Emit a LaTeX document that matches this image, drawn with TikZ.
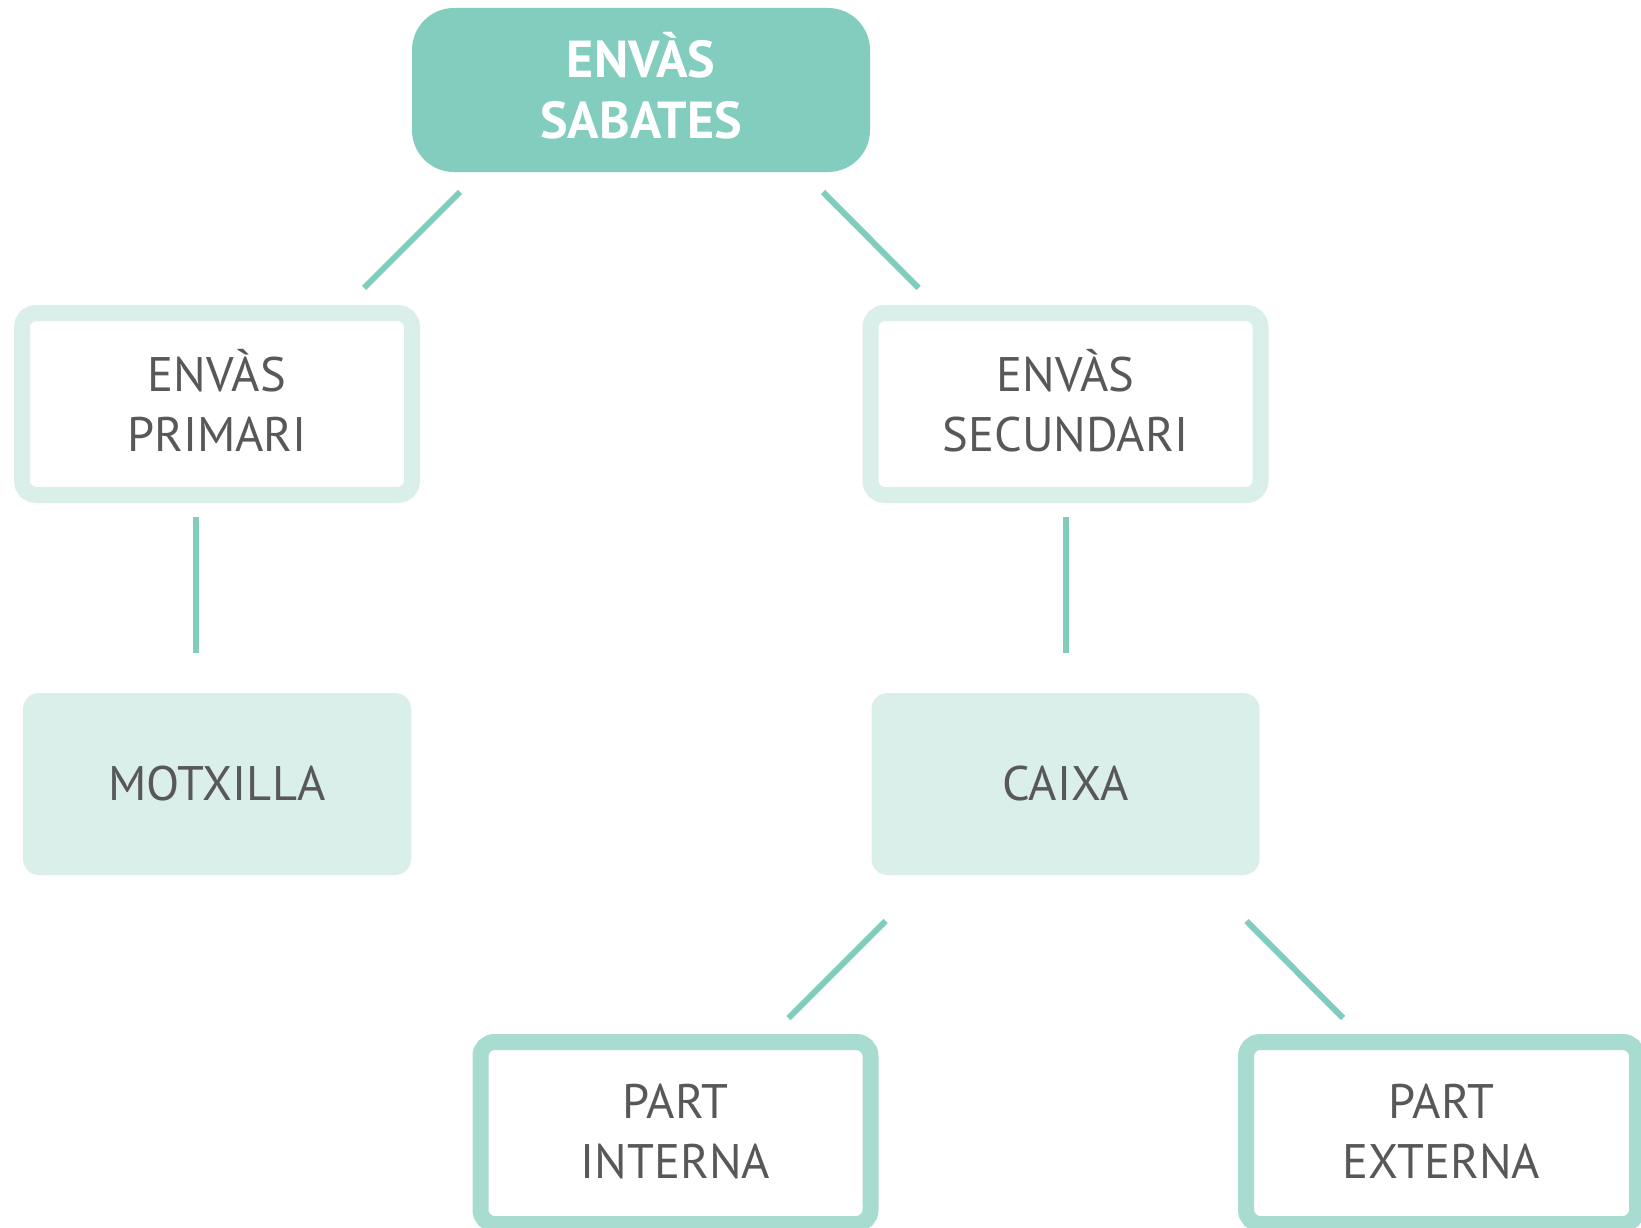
\documentclass[tikz,border=0pt]{standalone}
\usepackage{fontspec}
\setmainfont{PT Sans}
\definecolor{topfill}{HTML}{82CDBE}
\definecolor{conncol}{HTML}{7ECDBD}
\definecolor{lightmint}{HTML}{DBEFEA}
\definecolor{midmint}{HTML}{A9DCD0}
\definecolor{txtgray}{HTML}{58585A}
\begin{document}
\begin{tikzpicture}[x=1pt,y=-1pt,
  every node/.style={outer sep=0pt, inner sep=0pt, align=center},
  headbox/.style={fill=topfill, rounded corners=42pt, minimum width=458pt, minimum height=164pt,
    text=white, text depth=10pt, font=\bfseries\fontsize{52}{61}\selectfont},
  ringbox/.style={draw=lightmint, line width=16pt, fill=white, rounded corners=14pt,
    minimum width=390pt, minimum height=182pt, text=txtgray, text depth=7pt,
    font=\fontsize{48.5}{60}\selectfont},
  ringboxdark/.style={ringbox, draw=midmint, text depth=4pt},
  solidbox/.style={fill=lightmint, rounded corners=16pt, minimum width=388pt, minimum height=182pt,
    text=txtgray, font=\fontsize{48.5}{60}\selectfont},
  conn/.style={draw=conncol, line width=6pt}
]
\useasboundingbox (0,0) rectangle (1641,1228);
\fill[white] (0,0) rectangle (1641,1228);

\node[headbox] (top) at (641,90) {ENVÀS\\SABATES};
\node[ringbox] (prim) at (217,404) {ENVÀS\\PRIMARI};
\node[ringbox] (sec) at (1065.5,404) {ENVÀS\\SECUNDARI};
\node[solidbox] (mot) at (217,784) {MOTXILLA};
\node[solidbox] (caixa) at (1065.5,784) {CAIXA};
\node[ringboxdark] (pint) at (675.5,1133) {PART\\INTERNA};
\node[ringboxdark, minimum width=391pt] (pext) at (1441.5,1133) {PART\\EXTERNA};

\draw[conn] ([shift={(48,20)}]top.south west) -- ([shift={(-48,-25)}]prim.north east);
\draw[conn] ([shift={(-47,20)}]top.south east) -- ([shift={(48,-25)}]sec.north west);
\draw[conn] ([shift={(-21,22)}]prim.south) -- ([shift={(-21,-40)}]mot.north);
\draw[conn] ([shift={(0,22)}]sec.south) -- ([shift={(0,-40)}]caixa.north);
\draw[conn] ([shift={(14,46)}]caixa.south west) -- ([shift={(-82,-24)}]pint.north east);
\draw[conn] ([shift={(-13,46)}]caixa.south east) -- ([shift={(97,-24)}]pext.north west);
\end{tikzpicture}
\end{document}
